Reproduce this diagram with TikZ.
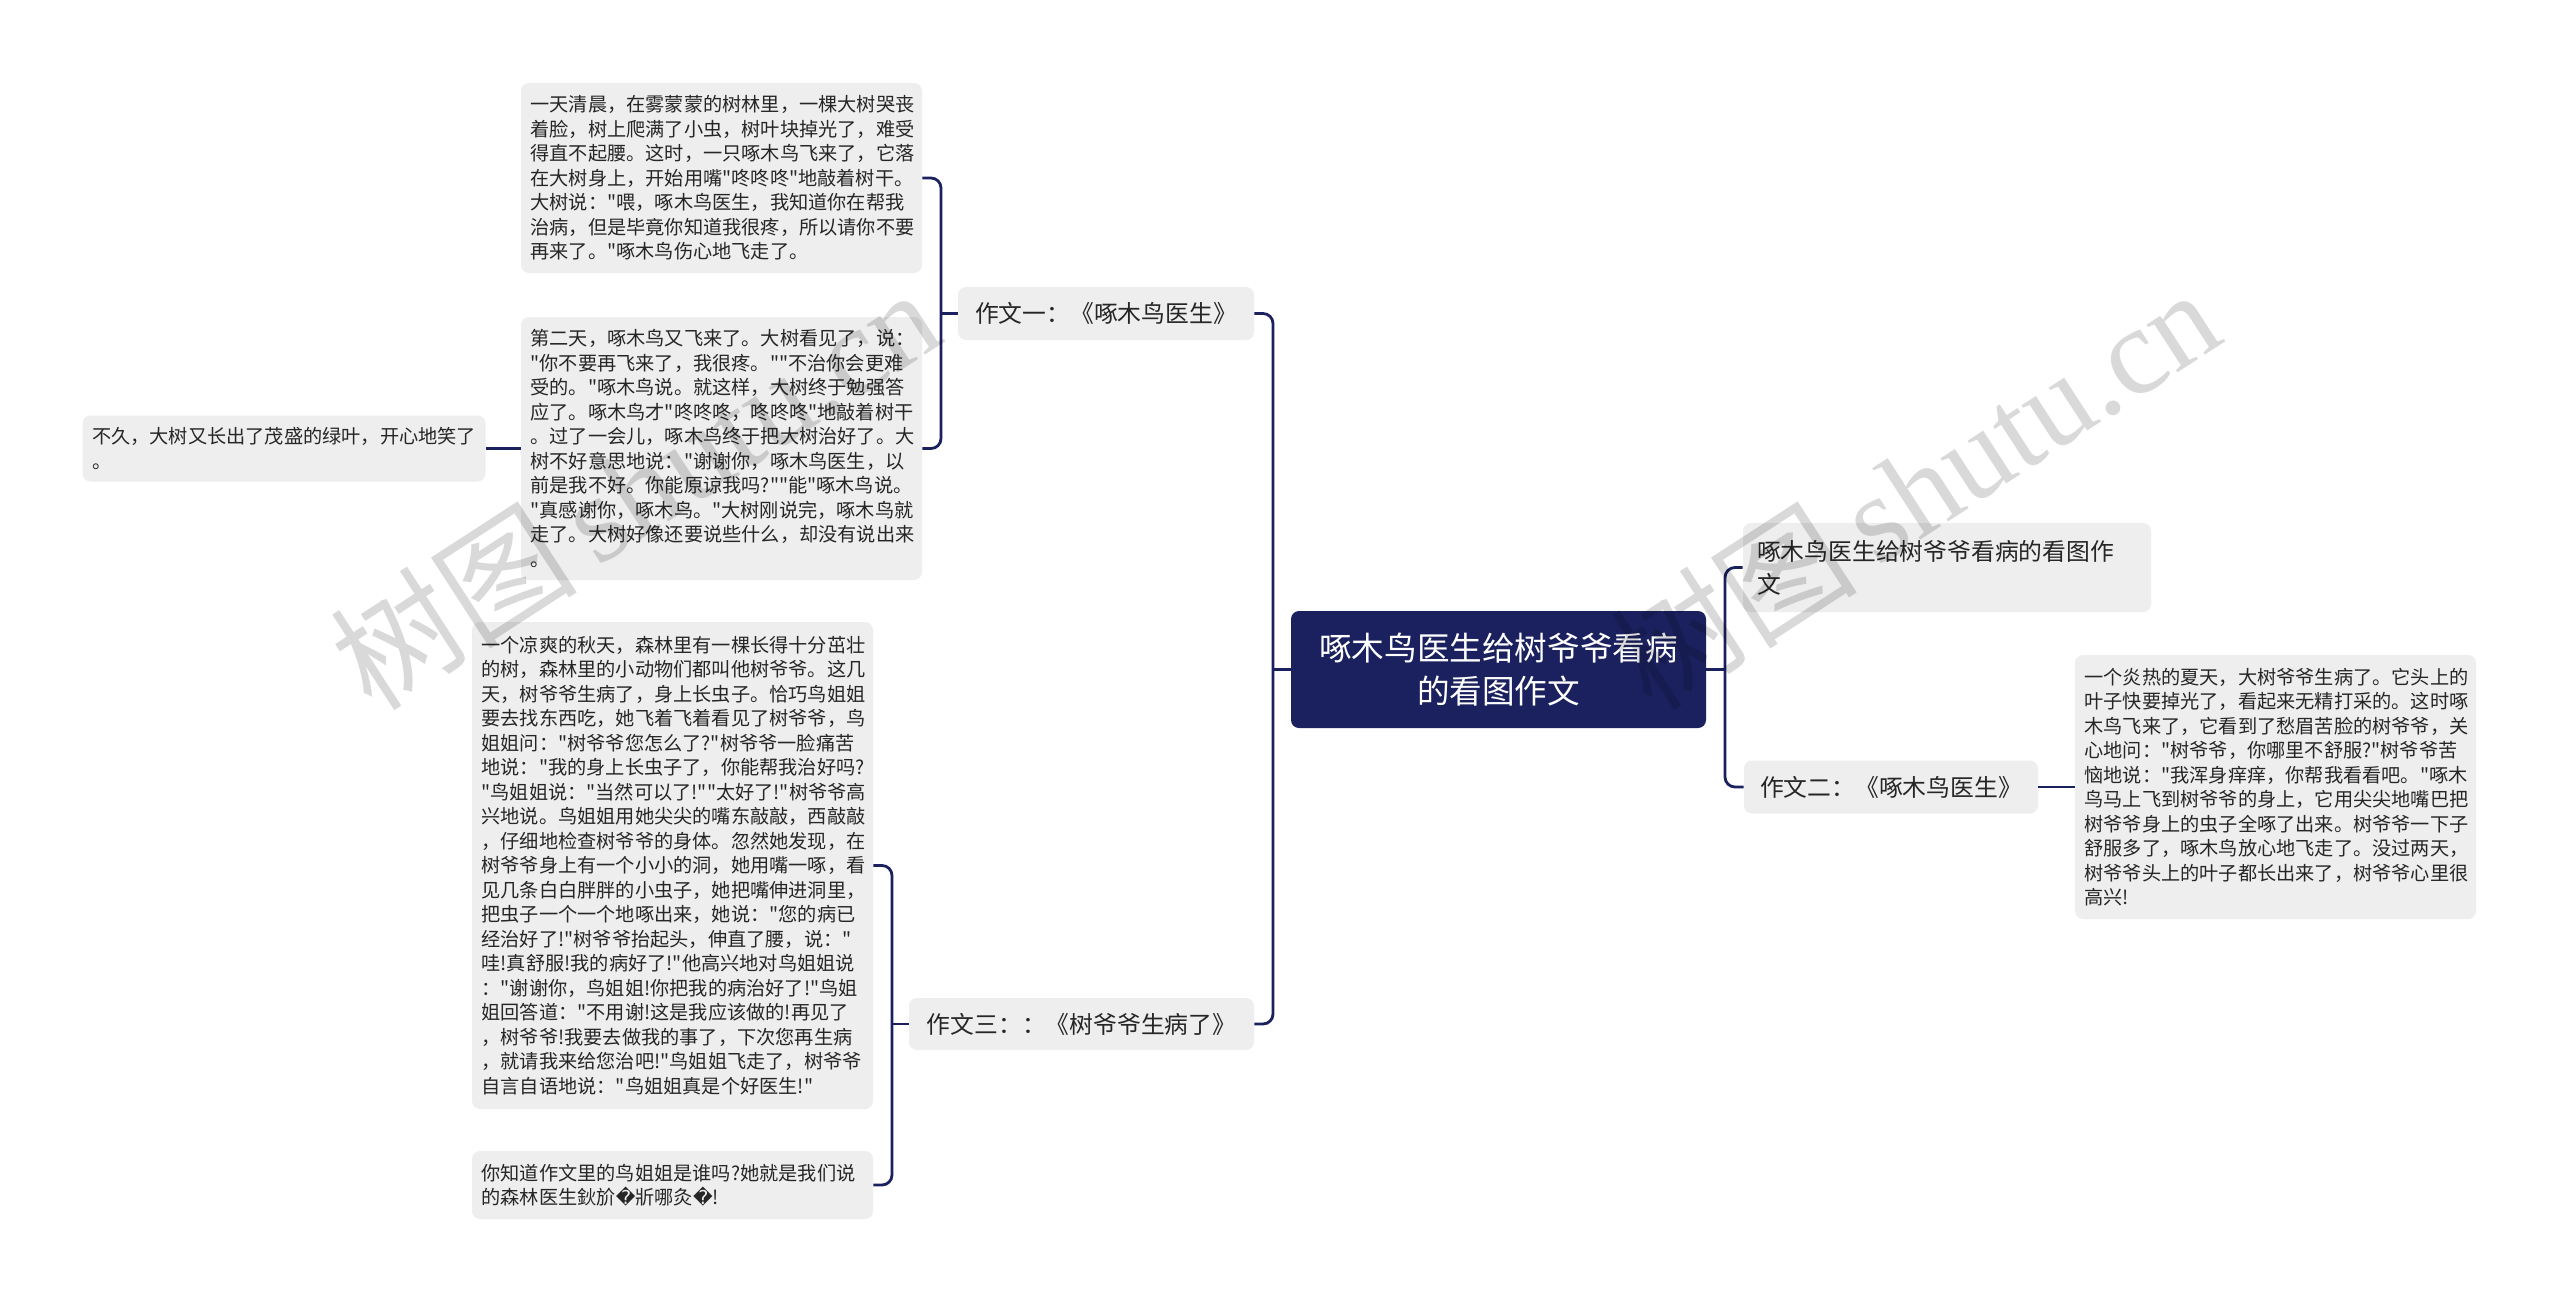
\documentclass[tikz,border=0pt]{standalone}
\usepackage{fontspec}
\setmainfont{Noto Sans CJK SC}[Ligatures=TeXOff]
\newfontfamily\djv{DejaVu Sans}
\newfontfamily\wmserif{Liberation Serif}
\definecolor{navy}{HTML}{1B215E}
\definecolor{leafc}{HTML}{EEEEEE}
\definecolor{txt}{HTML}{262626}
\newcommand\leaffont{\fontsize{9.6pt}{12.25pt}\selectfont}
\newcommand\branchfont{\fontsize{11.9pt}{16.5pt}\selectfont}
\newcommand\rootfont{\fontsize{16.3pt}{21.5pt}\selectfont}
\newcommand\rep{{\djv ^^^^fffd}}
\tikzset{
  leaf/.style={fill=leafc, rounded corners=4pt, text=txt, align=left,
    text width=191pt, inner xsep=4.75pt, inner ysep=0pt, font=\leaffont},
  branch/.style={fill=leafc, rounded corners=4pt, text=txt, align=center,
    inner sep=0pt, font=\branchfont},
  rootbox/.style={fill=navy, rounded corners=4pt, text=white, align=center,
    inner sep=0pt, font=\rootfont, minimum width=207.5pt, minimum height=58.5pt},
  conn/.style={draw=navy, line width=1.4pt, rounded corners=5pt},
  wm/.style={text=black, text opacity=0.15, inner sep=0pt,
    font=\fontsize{62pt}{62pt}\selectfont}
}
\begin{document}
\begin{tikzpicture}[x=0.5pt,y=-0.5pt]
\fill[white] (0,0) rectangle (2560,1302);
\useasboundingbox (0,0) rectangle (2560,1302);

% root
\node[rootbox] (n0) at (1498.5,669.5) {啄木鸟医生给树爷爷看病\\的看图作文};

% branches
\node[branch, minimum width=148pt, minimum height=26.5pt] (n1) at (1106,313.5) {作文一：《啄木鸟医生》};
\node[branch, minimum width=172.5pt, minimum height=26pt] (n3) at (1081.5,1024) {作文三：：《树爷爷生病了》};
\node[branch, align=left, text width=190pt, inner xsep=7pt, minimum height=44.5pt] (r1) at (1947,567.5) {啄木鸟医生给树爷爷看病的看图作\\文};
\node[branch, minimum width=147pt, minimum height=26.5pt] (r2) at (1891,787) {作文二：《啄木鸟医生》};

% leaves
\node[leaf, minimum height=95pt] (l1a) at (721.5,178) {一天清晨，在雾蒙蒙的树林里，一棵大树哭丧\\
着脸，树上爬满了小虫，树叶块掉光了，难受\\
得直不起腰。这时，一只啄木鸟飞来了，它落\\
在大树身上，开始用嘴"咚咚咚"地敲着树干。\\
大树说："喂，啄木鸟医生，我知道你在帮我\\
治病，但是毕竟你知道我很疼，所以请你不要\\
再来了。"啄木鸟伤心地飞走了。};

\node[leaf, minimum height=131.5pt] (l1b) at (721.5,448.5) {第二天，啄木鸟又飞来了。大树看见了，说：\\
"你不要再飞来了，我很疼。""不治你会更难\\
受的。"啄木鸟说。就这样，大树终于勉强答\\
应了。啄木鸟才"咚咚咚，咚咚咚"地敲着树干\\
。过了一会儿，啄木鸟终于把大树治好了。大\\
树不好意思地说："谢谢你，啄木鸟医生，以\\
前是我不好。你能原谅我吗?""能"啄木鸟说。\\
"真感谢你，啄木鸟。"大树刚说完，啄木鸟就\\
走了。大树好像还要说些什么，却没有说出来\\
。};

\node[leaf, text width=192pt, minimum height=33pt] (lbj) at (284,448.5) {不久，大树又长出了茂盛的绿叶，开心地笑了\\
。};

\node[leaf, minimum height=243.5pt] (l3a) at (672.5,865.5) {一个凉爽的秋天，森林里有一棵长得十分茁壮\\
的树，森林里的小动物们都叫他树爷爷。这几\\
天，树爷爷生病了，身上长虫子。恰巧鸟姐姐\\
要去找东西吃，她飞着飞着看见了树爷爷，鸟\\
姐姐问："树爷爷您怎么了?"树爷爷一脸痛苦\\
地说："我的身上长虫子了，你能帮我治好吗?\\
"鸟姐姐说："当然可以了!""太好了!"树爷爷高\\
兴地说。鸟姐姐用她尖尖的嘴东敲敲，西敲敲\\
，仔细地检查树爷爷的身体。忽然她发现，在\\
树爷爷身上有一个小小的洞，她用嘴一啄，看\\
见几条白白胖胖的小虫子，她把嘴伸进洞里，\\
把虫子一个一个地啄出来，她说："您的病已\\
经治好了!"树爷爷抬起头，伸直了腰，说："\\
哇!真舒服!我的病好了!"他高兴地对鸟姐姐说\\
："谢谢你，鸟姐姐!你把我的病治好了!"鸟姐\\
姐回答道："不用谢!这是我应该做的!再见了\\
，树爷爷!我要去做我的事了，下次您再生病\\
，就请我来给您治吧!"鸟姐姐飞走了，树爷爷\\
自言自语地说："鸟姐姐真是个好医生!"};

\node[leaf, minimum height=34pt] (l3b) at (672.5,1185) {你知道作文里的鸟姐姐是谁吗?她就是我们说\\
的森林医生鈥斺\rep 斨哪灸\rep!};

\node[leaf, minimum height=132pt] (rl) at (2275.5,787) {一个炎热的夏天，大树爷爷生病了。它头上的\\
叶子快要掉光了，看起来无精打采的。这时啄\\
木鸟飞来了，它看到了愁眉苦脸的树爷爷，关\\
心地问："树爷爷，你哪里不舒服?"树爷爷苦\\
恼地说："我浑身痒痒，你帮我看看吧。"啄木\\
鸟马上飞到树爷爷的身上，它用尖尖地嘴巴把\\
树爷爷身上的虫子全啄了出来。树爷爷一下子\\
舒服多了，啄木鸟放心地飞走了。没过两天，\\
树爷爷头上的叶子都长出来了，树爷爷心里很\\
高兴!};

% junction points
\coordinate (tl) at (1273,669.5);
\coordinate (tr) at (1725,669.5);
\coordinate (c1) at (941,313.5);
\coordinate (c3) at (892,1024);

% connectors
\draw[conn] (n0.west) -- (tl);
\draw[conn] (n1.east) -| (tl) |- (n3.east);
\draw[conn] (n0.east) -- (tr);
\draw[conn] (r1.west) -| (tr) |- (r2.west);
\draw[conn] (n1.west) -- (c1);
\draw[conn] (l1a.east) -| (c1) |- (l1b.east);
\draw[conn] (l1b.west) -- (lbj.east);
\draw[conn] (n3.west) -- (c3);
\draw[conn] (l3a.east) -| (c3) |- (l3b.east);
\draw[conn] (r2.east) -- (rl.west);

% watermarks
\node[wm, anchor=base west, rotate=33] (wm1) at (372,714) {树图\,{\wmserif shutu.cn}};
\node[wm, anchor=base west, rotate=33] (wm2) at (1652,714) {树图\,{\wmserif shutu.cn}};
\end{tikzpicture}
\end{document}
